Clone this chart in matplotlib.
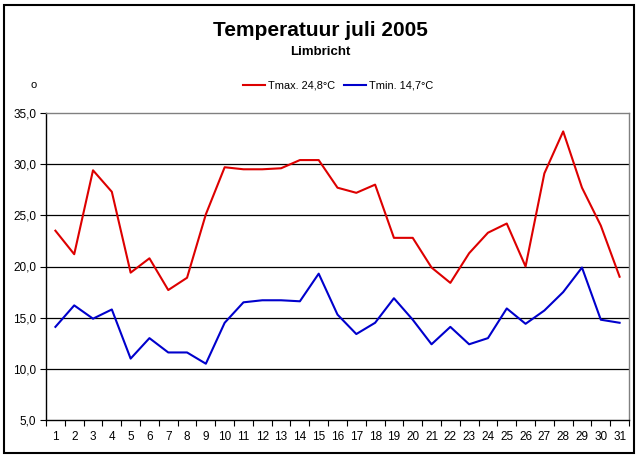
import matplotlib.pyplot as plt
from matplotlib.patches import Rectangle
from matplotlib.ticker import FixedLocator, NullFormatter

plt.rcParams['font.family'] = ['Liberation Sans', 'DejaVu Sans']

days = list(range(1, 32))
tmax = [23.5, 21.2, 29.4, 27.3, 19.4, 20.8, 17.7, 18.9, 25.1, 29.7,
        29.5, 29.5, 29.6, 30.4, 30.4, 27.7, 27.2, 28.0, 22.8, 22.8,
        19.9, 18.4, 21.3, 23.3, 24.2, 20.0, 29.1, 33.2, 27.7, 24.0, 19.0]
tmin = [14.1, 16.2, 14.9, 15.8, 11.0, 13.0, 11.6, 11.6, 10.5, 14.5,
        16.5, 16.7, 16.7, 16.6, 19.3, 15.3, 13.4, 14.5, 16.9, 14.8,
        12.4, 14.1, 12.4, 13.0, 15.9, 14.4, 15.7, 17.5, 19.9, 14.8, 14.5]
yticks = [5, 10, 15, 20, 25, 30, 35]

fig = plt.figure(figsize=(6.4, 4.57), dpi=100)
ax = fig.add_axes([46 / 640, 37 / 457, 583 / 640, 307 / 457])

ax.plot(days, tmax, color='#dd0000', linewidth=1.5, label='Tmax. 24,8°C')
ax.plot(days, tmin, color='#0000cc', linewidth=1.5, label='Tmin. 14,7°C')

ax.set_xlim(0.5, 31.5)
ax.set_ylim(5, 35)
ax.set_yticks(yticks)
ax.set_yticklabels([f'{v:.1f}'.replace('.', ',') for v in yticks], fontsize=8.5)
ax.set_xticks(days)
ax.set_xticklabels([str(d) for d in days], fontsize=8.5)
ax.tick_params(axis='x', which='major', length=0, pad=8)
ax.xaxis.set_minor_locator(FixedLocator([d + 0.5 for d in range(0, 32)]))
ax.xaxis.set_minor_formatter(NullFormatter())
ax.tick_params(axis='x', which='minor', length=4, width=0.8, direction='out')
ax.tick_params(axis='y', length=4, width=0.8, direction='out', pad=3)

for v in yticks[1:-1]:
    ax.axhline(v, color='black', linewidth=0.9, zorder=0)

ax.spines['left'].set_color('black')
ax.spines['bottom'].set_color('black')
ax.spines['top'].set_color('#808080')
ax.spines['right'].set_color('#808080')
for s in ax.spines.values():
    s.set_linewidth(1.0)

fig.text(0.5, 1 - 30 / 457, 'Temperatuur juli 2005', ha='center', va='center',
         fontsize=15, fontweight='bold')
fig.text(0.5, 1 - 52 / 457, 'Limbricht', ha='center', va='center',
         fontsize=9.5, fontweight='bold')
fig.text(34 / 640, 1 - 85 / 457, 'o', ha='center', va='center', fontsize=8)

ax.legend(loc='center', bbox_to_anchor=(338 / 640, 1 - 86 / 457),
          bbox_transform=fig.transFigure, ncol=2, frameon=False,
          fontsize=7.9, handlelength=2.0, handletextpad=0.3,
          columnspacing=0.8)

fig.patches.append(Rectangle((4 / 640, 4 / 457), 630 / 640, 448 / 457,
                             transform=fig.transFigure, fill=False,
                             edgecolor='black', linewidth=1.5))

fig.savefig('out.png', dpi=100)
